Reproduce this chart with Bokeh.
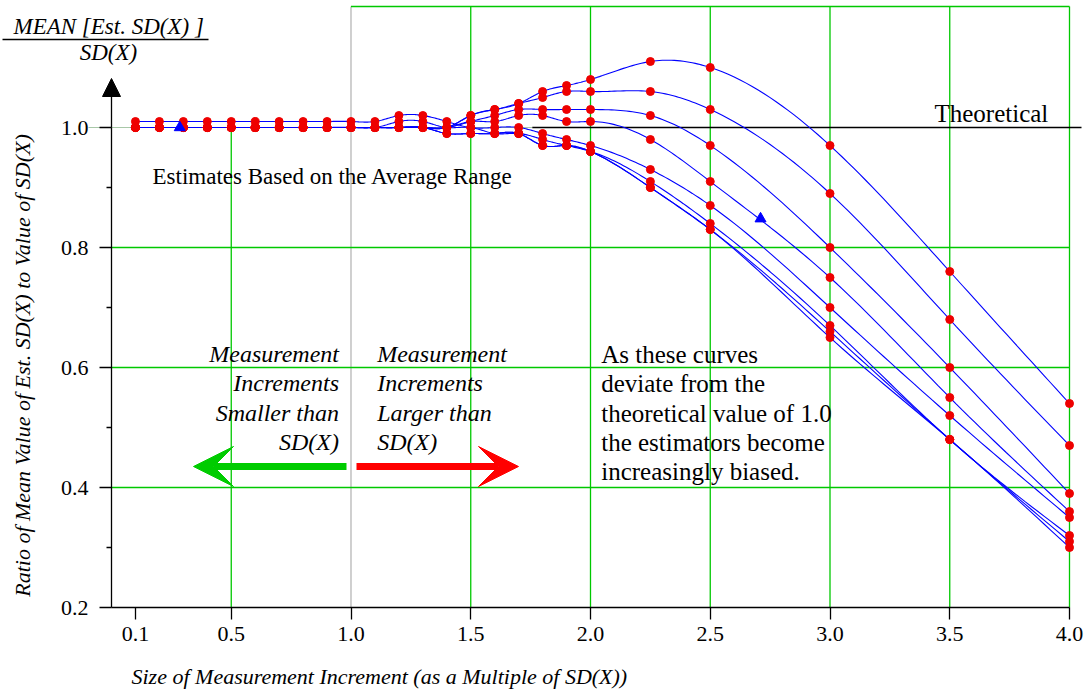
import numpy as np
from bokeh.plotting import figure
from bokeh.models import (FixedTicker, PrintfTickFormatter, Label, Arrow, VeeHead,
                          NormalHead, LinearAxis, Range1d)
from bokeh.embed import file_html
from bokeh.resources import INLINE

# ---------------- data ----------------
increment = [0.1, 0.2, 0.3, 0.4, 0.5, 0.6, 0.7, 0.8, 0.9, 1.0, 1.1, 1.2, 1.3,
             1.4, 1.5, 1.6, 1.7, 1.8, 1.9, 2.0, 2.25, 2.5, 3.0, 3.5, 4.0]

curve_1 = [1.00, 1.00, 1.00, 1.00, 1.00, 1.00, 1.00, 1.00, 1.00, 1.00, 1.00, 1.00, 1.00,
           1.00, 1.02, 1.03, 1.04, 1.06, 1.07, 1.08, 1.11, 1.10, 0.97, 0.76, 0.54]
curve_2 = [1.00, 1.00, 1.00, 1.00, 1.00, 1.00, 1.00, 1.00, 1.00, 1.00, 1.00, 1.00, 1.00,
           1.00, 1.02, 1.03, 1.04, 1.05, 1.06, 1.06, 1.06, 1.03, 0.89, 0.68, 0.47]
curve_3 = [1.00, 1.00, 1.00, 1.00, 1.00, 1.00, 1.00, 1.00, 1.00, 1.00, 1.00, 1.00, 1.00,
           1.00, 1.01, 1.02, 1.03, 1.03, 1.03, 1.03, 1.02, 0.97, 0.80, 0.60, 0.39]
curve_4 = [1.00, 1.00, 1.00, 1.00, 1.00, 1.00, 1.00, 1.00, 1.00, 1.00, 1.00, 1.00, 1.00,
           1.00, 1.01, 1.01, 1.02, 1.02, 1.01, 1.01, 0.98, 0.91, 0.75, 0.55, 0.36]
curve_5 = [1.01, 1.01, 1.01, 1.01, 1.01, 1.01, 1.01, 1.01, 1.01, 1.01, 1.01, 1.02, 1.02,
           1.01, 1.00, 1.00, 1.00, 0.99, 0.98, 0.97, 0.93, 0.87, 0.70, 0.52, 0.35]
curve_6 = [1.00, 1.00, 1.00, 1.00, 1.00, 1.00, 1.00, 1.00, 1.00, 1.00, 1.00, 1.01, 1.01,
           1.00, 1.00, 0.99, 0.99, 0.98, 0.97, 0.96, 0.91, 0.84, 0.67, 0.48, 0.32]
curve_7 = [1.00, 1.00, 1.00, 1.00, 1.00, 1.00, 1.00, 1.00, 1.00, 1.00, 1.00, 1.00, 1.00,
           0.99, 0.99, 0.99, 0.99, 0.97, 0.97, 0.96, 0.90, 0.83, 0.66, 0.48, 0.31]
curve_8 = [1.00, 1.00, 1.00, 1.00, 1.00, 1.00, 1.00, 1.00, 1.00, 1.00, 1.00, 1.00, 1.00,
           0.99, 0.99, 0.99, 0.99, 0.97, 0.97, 0.96, 0.90, 0.83, 0.65, 0.48, 0.30]
curves = [curve_1, curve_2, curve_3, curve_4, curve_5, curve_6, curve_7, curve_8]

marker_x = [0.285, 2.71]
marker_y = [1.00, 0.848]

x_ticks = [0.1, 0.5, 1.0, 1.5, 2.0, 2.5, 3.0, 3.5, 4.0]
y_ticks = [0.2, 0.4, 0.6, 0.8, 1.0]
y_minor = [0.3, 0.5, 0.7, 0.9]
theoretical = 1.0

# ---------------- helpers ----------------
def smooth(xs, ys, per=20):
    """natural cubic spline through the data points (for drawing the line only)"""
    xs = np.asarray(xs, float); ys = np.asarray(ys, float)
    n = len(xs); h = np.diff(xs)
    A = np.zeros((n, n)); b = np.zeros(n)
    A[0, 0] = 1; A[-1, -1] = 1
    for i in range(1, n - 1):
        A[i, i - 1] = h[i - 1]; A[i, i] = 2 * (h[i - 1] + h[i]); A[i, i + 1] = h[i]
        b[i] = 6 * ((ys[i + 1] - ys[i]) / h[i] - (ys[i] - ys[i - 1]) / h[i - 1])
    M = np.linalg.solve(A, b)
    ox, oy = [], []
    for i in range(n - 1):
        t = np.linspace(xs[i], xs[i + 1], per, endpoint=(i == n - 2))
        a = xs[i + 1] - t; c = t - xs[i]
        y = ((M[i] * a ** 3 + M[i + 1] * c ** 3) / (6 * h[i])
             + (ys[i] / h[i] - M[i] * h[i] / 6) * a
             + (ys[i + 1] / h[i] - M[i + 1] * h[i] / 6) * c)
        ox.extend(t.tolist()); oy.extend(y.tolist())
    return ox, oy

W, H = 1090, 692
X0_PX, PX_PER_X = 111.0, 239.5      # x = 0 at pixel 111
Y02_PX, PX_PER_Y = 607.0, 600.0     # y = 0.2 at pixel 607

def dx(px):
    return (px - X0_PX) / PX_PER_X

def dy(py):
    return 0.2 + (Y02_PX - py) / PX_PER_Y

GREEN = "#00c800"
FONT = "Liberation Serif"

p = figure(width=W, height=H,
           x_range=Range1d(dx(0), dx(W)), y_range=Range1d(dy(H), dy(0)),
           output_backend="svg", toolbar_location=None, title=None,
           x_axis_location=None, y_axis_location=None,
           min_border_left=0, min_border_right=0, min_border_top=0,
           min_border_bottom=0)
p.outline_line_color = None
p.background_fill_color = "white"
p.border_fill_color = "white"
p.grid.visible = False

# ---------------- axes ----------------
ya = LinearAxis(fixed_location=0,
                ticker=FixedTicker(ticks=y_ticks, minor_ticks=y_minor),
                formatter=PrintfTickFormatter(format="%.1f"),
                bounds=(y_ticks[0], y_ticks[-1]))
xa = LinearAxis(fixed_location=y_ticks[0],
                ticker=FixedTicker(ticks=x_ticks, minor_ticks=[]),
                formatter=PrintfTickFormatter(format="%.1f"),
                bounds=(0, x_ticks[-1]))
xa.major_tick_out = 12; xa.major_tick_in = 0
xa.minor_tick_out = 0; xa.minor_tick_in = 0
xa.major_label_standoff = 7
ya.major_tick_out = 12; ya.major_tick_in = 0
ya.minor_tick_out = 5; ya.minor_tick_in = 0
ya.major_label_standoff = 11
for ax in (xa, ya):
    ax.axis_line_color = "black"; ax.axis_line_width = 1.3
    ax.major_tick_line_color = "black"; ax.major_tick_line_width = 1.3
    ax.minor_tick_line_color = "black"; ax.minor_tick_line_width = 1.3
    ax.major_label_text_font = FONT
    ax.major_label_text_font_size = "22px"
    ax.major_label_text_color = "black"
p.add_layout(ya, "left")
p.add_layout(xa, "below")

# y axis arrow head
p.add_layout(Arrow(end=NormalHead(size=18, fill_color="black", line_color="black"),
                   x_start=0, y_start=y_ticks[-1], x_end=0, y_end=dy(78),
                   line_color="black", line_width=1.3))

# ---------------- grid lines ----------------
top = dy(6)
vx = [t for t in x_ticks if t >= 1.5]
p.segment(x0=vx, y0=[y_ticks[0]] * len(vx), x1=vx, y1=[top] * len(vx),
          line_color=GREEN, line_width=1.3)
p.segment(x0=[0.5], y0=[y_ticks[0]], x1=[0.5], y1=[theoretical],
          line_color=GREEN, line_width=1.3)
p.segment(x0=[1.0], y0=[y_ticks[0]], x1=[1.0], y1=[top],
          line_color="#b0b0b0", line_width=1.2)
hy = [0.4, 0.6, 0.8]
p.segment(x0=[0] * len(hy), y0=hy, x1=[x_ticks[-1]] * len(hy), y1=hy,
          line_color=GREEN, line_width=1.3)
p.segment(x0=[1.0], y0=[top], x1=[x_ticks[-1]], y1=[top],
          line_color=GREEN, line_width=1.5)
p.segment(x0=[dx(88)], y0=[theoretical], x1=[1.757], y1=[theoretical],
          line_color="#a8c8a8", line_width=1.2)
p.segment(x0=[1.757], y0=[theoretical], x1=[dx(1081)], y1=[theoretical],
          line_color="black", line_width=1.3)

# ---------------- curves ----------------
for c in curves:
    sx, sy = smooth(increment, c)
    p.line(sx, sy, line_color="#0000ff", line_width=1.1)
for c in curves:
    p.scatter(increment, c, size=8, marker="circle", fill_color="#ee0000",
              line_color="#ee0000")
p.scatter(marker_x, marker_y, marker="triangle", size=11,
          fill_color="#0000ff", line_color="#0000ff")

# ---------------- arrows ----------------
p.add_layout(Arrow(end=VeeHead(size=40, fill_color="#00cc00", line_color="#00cc00"),
                   x_start=dx(346), y_start=dy(466), x_end=dx(193), y_end=dy(466),
                   line_color="#00cc00", line_width=7))
p.add_layout(Arrow(end=VeeHead(size=40, fill_color="#ff0000", line_color="#ff0000"),
                   x_start=dx(356), y_start=dy(466), x_end=dx(518), y_end=dy(466),
                   line_color="#ff0000", line_width=7))

# ---------------- texts ----------------
def lab(text, px, py, size, align="left", italic=False, angle=0.0, baseline="alphabetic"):
    fs = float(size.replace("px", ""))
    shift = 0.3 * fs if baseline == "alphabetic" else 0.0
    p.add_layout(Label(x=dx(px), y=dy(py - shift), text=text, text_font=FONT,
                       text_font_size=size, text_align=align,
                       text_baseline=baseline, angle=angle,
                       text_font_style="italic" if italic else "normal",
                       text_color="black"))

lab("MEAN [Est. SD(X) ]", 13, 33, "23px", italic=True)
lab("SD(X)", 108, 59, "23px", align="center", italic=True)
p.segment(x0=[dx(2)], y0=[dy(39)], x1=[dx(208)], y1=[dy(39)],
          line_color="black", line_width=1.4)

lab("Estimates Based on the Average Range", 152, 183, "23px")
lab("Theoretical", 934, 120, "25px")

left_block = ["Measurement", "Increments", "Smaller than", "SD(X)"]
right_block = ["Measurement", "Increments", "Larger than", "SD(X)"]
block_base = [360.7, 390.0, 419.3, 448.3]
for t, b in zip(left_block, block_base):
    lab(t, 338.5, b, "24px", align="right", italic=True)
for t, b in zip(right_block, block_base):
    lab(t, 376.7, b, "24px", italic=True)

note = ["As these curves", "deviate from the", "theoretical value of 1.0",
        "the estimators become", "increasingly biased."]
note_base = [361.7, 390.7, 420.0, 449.0, 478.3]
for t, b in zip(note, note_base):
    lab(t, 600.7, b, "25px")

lab("Ratio of Mean Value of Est. SD(X) to Value of SD(X)", 22, 365, "22px",
    align="center", italic=True, angle=np.pi / 2, baseline="middle")
lab("Size of Measurement Increment (as a Multiple of SD(X))", 131, 683, "22px",
    italic=True)

open("out.html", "w").write(file_html(p, INLINE))
